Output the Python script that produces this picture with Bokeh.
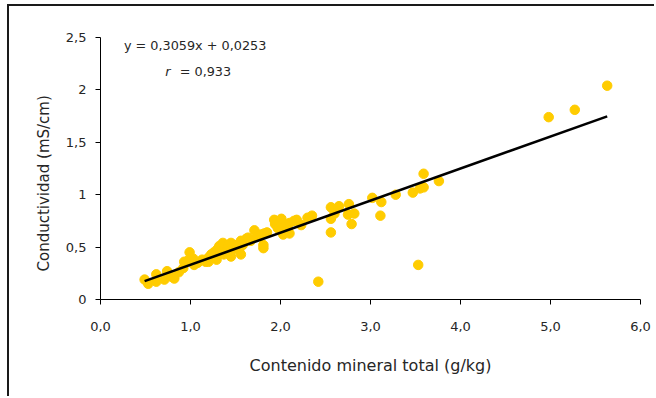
import numpy as np
from bokeh.plotting import figure
from bokeh.models import Range1d, Label, Title, FixedTicker, CustomJSTickFormatter
from bokeh.embed import file_html
from bokeh.resources import INLINE

# Total mineral content (g/kg) vs. conductivity (mS/cm)
mineral = [0.49, 0.53, 0.62, 0.62, 0.71, 0.74, 0.78, 0.82, 0.87, 0.92,
           0.93, 0.97, 0.99, 1.03, 1.04, 1.08, 1.13, 1.17, 1.20, 1.20,
           1.23, 1.26, 1.27, 1.29, 1.30, 1.32, 1.34, 1.36, 1.37, 1.38,
           1.40, 1.42, 1.45, 1.45, 1.47, 1.49, 1.52, 1.54, 1.56, 1.56,
           1.58, 1.60, 1.62, 1.64, 1.67, 1.71, 1.74, 1.78, 1.81, 1.81,
           1.82, 1.85, 1.93, 1.94, 1.97, 2.00, 2.01, 2.03, 2.05, 2.08,
           2.10, 2.10, 2.15, 2.18, 2.23, 2.30, 2.35, 2.42, 2.56, 2.56,
           2.56, 2.60, 2.65, 2.75, 2.76, 2.79, 2.82, 3.02, 3.11, 3.12,
           3.28, 3.47, 3.53, 3.55, 3.59, 3.59, 3.76, 4.98, 5.27, 5.63]
conductivity = [0.19, 0.15, 0.24, 0.17, 0.19, 0.27, 0.22, 0.20, 0.26, 0.30,
                0.36, 0.37, 0.45, 0.39, 0.33, 0.35, 0.38, 0.36, 0.36, 0.40,
                0.43, 0.45, 0.41, 0.38, 0.48, 0.51, 0.46, 0.54, 0.43, 0.50,
                0.47, 0.52, 0.41, 0.54, 0.48, 0.52, 0.50, 0.47, 0.56, 0.43,
                0.52, 0.55, 0.58, 0.59, 0.56, 0.66, 0.60, 0.62, 0.49, 0.52,
                0.63, 0.64, 0.76, 0.72, 0.68, 0.73, 0.77, 0.62, 0.70, 0.66,
                0.73, 0.63, 0.75, 0.76, 0.71, 0.78, 0.80, 0.17, 0.88, 0.77,
                0.64, 0.82, 0.89, 0.81, 0.91, 0.72, 0.82, 0.97, 0.80, 0.93,
                1.00, 1.02, 0.33, 1.06, 1.20, 1.07, 1.13, 1.74, 1.81, 2.04]

# Linear fit as reported in the chart
slope = 0.3059
intercept = 0.0253
r_value = "0,933"

x_ticks = [0, 1, 2, 3, 4, 5, 6]
y_ticks = [0, 0.5, 1, 1.5, 2, 2.5]

FONT = "DejaVu Sans"
TEXT = "#262626"

p = figure(width=647, height=392, output_backend="svg", toolbar_location=None,
           x_range=Range1d(0, 6), y_range=Range1d(0, 2.5),
           min_border_left=91, min_border_right=16, min_border_top=31,
           min_border_bottom=99)
p.outline_line_color = None
p.xgrid.visible = False
p.ygrid.visible = False
p.background_fill_color = "white"
p.border_fill_color = "white"
# Chart-area border along the left and top edges
p.margin = (4, 0, 0, 7)
p.styles = {"border-left": "2px solid #1a1a1a", "border-top": "2px solid #1a1a1a"}

# Scatter points
p.scatter(mineral, conductivity, size=9.5, color="#FFCC00", line_color="#FFCC00")

# Regression line over the observed range
x_fit = np.array([min(mineral), max(mineral)])
p.line(x_fit, slope * x_fit + intercept, line_color="black", line_width=2.6)

# Axes
for ax in (p.xaxis[0], p.yaxis[0]):
    ax.axis_line_color = "black"
    ax.major_tick_line_color = "black"
    ax.major_tick_in = 0
    ax.major_tick_out = 5
    ax.minor_tick_line_color = None
    ax.major_label_text_font = FONT
    ax.major_label_text_font_size = "13px"
    ax.major_label_text_color = TEXT

p.xaxis.ticker = FixedTicker(ticks=x_ticks)
p.xaxis.formatter = CustomJSTickFormatter(code="return tick.toFixed(1).replace('.', ',');")
p.xaxis.major_label_standoff = 17
p.xaxis.axis_label = "Contenido mineral total (g/kg)"
p.xaxis.axis_label_text_font = FONT
p.xaxis.axis_label_text_font_size = "16px"
p.xaxis.axis_label_text_font_style = "normal"
p.xaxis.axis_label_text_color = TEXT
p.xaxis.axis_label_standoff = 22

p.yaxis.ticker = FixedTicker(ticks=y_ticks)
p.yaxis.formatter = CustomJSTickFormatter(code="return String(tick).replace('.', ',');")
p.yaxis.major_label_standoff = 9

# Y title in the left panel, slightly below the frame centre
p.add_layout(Title(text="Conductividad (mS/cm)", align="left", offset=28, standoff=19,
                   text_font=FONT, text_font_size="15px", text_font_style="normal",
                   text_color=TEXT), "left")

# Equation and correlation coefficient
p.add_layout(Label(x=0.26, y=2.42, text="y = 0,3059x + 0,0253",
                   text_align="left", text_baseline="middle",
                   text_font=FONT, text_font_size="12.8px", text_color=TEXT))
p.add_layout(Label(x=0.72, y=2.18, text="r", text_font_style="italic",
                   text_align="left", text_baseline="middle",
                   text_font=FONT, text_font_size="12.8px", text_color=TEXT))
p.add_layout(Label(x=0.88, y=2.18, text="= " + r_value,
                   text_align="left", text_baseline="middle",
                   text_font=FONT, text_font_size="12.8px", text_color=TEXT))

open("out.html", "w").write(file_html(p, INLINE))
